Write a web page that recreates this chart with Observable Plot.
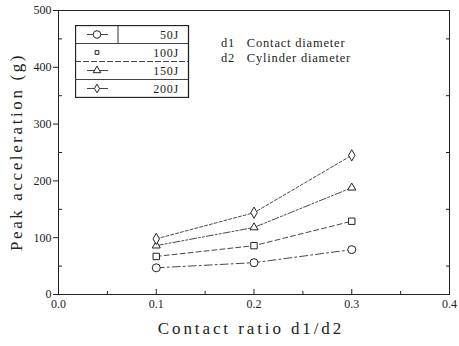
<!DOCTYPE html>
<html><head><meta charset="utf-8">
<script src="https://cdn.jsdelivr.net/npm/d3@7"></script>
<script src="https://cdn.jsdelivr.net/npm/@observablehq/plot@0.6"></script>
<style>
body{margin:0;background:#fff;}
#wrap{position:relative;width:459px;height:346px;font-family:"Liberation Serif",serif;}
#legend{position:absolute;left:75px;top:25px;}
#note{position:absolute;left:221px;top:36px;font-size:12.5px;letter-spacing:0.8px;line-height:15px;color:#222;white-space:pre;}
</style></head><body>
<div id="wrap"><div id="chart"></div><svg id="legend" width="115" height="73"></svg>
<div id="note"></div></div>
<script>
const ratios = [0.1, 0.2, 0.3];
const seriesNames = ["50J", "100J", "150J", "200J"];
const v50 = [47, 56, 79];
const v100 = [67, 86, 129];
const v150 = [86, 118, 188];
const v200 = [98, 144, 245];
const xTicks = [0, 0.1, 0.2, 0.3, 0.4];
const xMinor = [0.05, 0.15, 0.25, 0.35];
const yTicks = [0, 100, 200, 300, 400, 500];
const yMinor = [50, 150, 250, 350, 450];
const noteLines = ["d1   Contact diameter", "d2   Cylinder diameter"];

const symbols = ["circle", "square", "triangle", "diamond"];
const dashes = ["8,3,2,3", "5,3", "7,2,2,2,2,2", "3,2"];
const symSize = [4, 3.6, 3, 3.4];
const allVals = [v50, v100, v150, v200];
const data = [];
allVals.forEach((vals, i) => vals.forEach((v, j) => data.push({s: seriesNames[i], i, x: ratios[j], y: v})));

const marks = [
  Plot.frame({stroke: "#222", strokeWidth: 1}),
  Plot.axisY(yTicks, {tickSize: 5, tickFormat: d => d, fontSize: 12, tickPadding: 2, label: null, anchor: "left"}),
  Plot.axisY(yMinor, {tickSize: -4, text: null, label: null, anchor: "left"}),
  Plot.axisY(yMinor, {tickSize: -4, text: null, label: null, anchor: "right"}),
  Plot.axisX(xTicks, {tickSize: -5, tickFormat: d3.format(".1f"), fontSize: 12, tickPadding: 10, label: null, anchor: "bottom"}),
  Plot.axisX(xMinor, {tickSize: -3, text: null, label: null, anchor: "bottom"}),
];
seriesNames.forEach((s, i) => {
  const d = data.filter(e => e.i === i);
  marks.push(Plot.line(d, {x: "x", y: "y", stroke: "#333", strokeWidth: 0.9, strokeDasharray: dashes[i]}));
  marks.push(Plot.dot(d, {x: "x", y: "y", symbol: () => symbols[i], r: symSize[i], stroke: "#222", strokeWidth: 1, fill: "white"}));
});

const chart = Plot.plot({
  width: 459, height: 346,
  marginLeft: 58, marginRight: 10, marginTop: 10, marginBottom: 52,
  style: {fontFamily: "Liberation Serif, serif", color: "#222", background: "white"},
  x: {domain: [0, 0.4], label: null},
  y: {domain: [0, 500], label: null},
  marks
});
const svg = d3.select(chart);
svg.append("text").attr("x", 251).attr("y", 334).attr("text-anchor", "middle")
  .attr("font-size", 17).attr("letter-spacing", 2.9).attr("fill", "#222").text("Contact ratio d1/d2");
svg.append("text").attr("transform", "translate(22,152) rotate(-90)").attr("text-anchor", "middle")
  .attr("font-size", 17).attr("letter-spacing", 2.6).attr("fill", "#222").text("Peak acceleration (g)");
document.getElementById("chart").appendChild(chart);

document.getElementById("note").textContent = noteLines.join("\n");

// legend
const lg = d3.select("#legend");
const W = 113, rowH = 18;
lg.append("rect").attr("x", 0.5).attr("y", 0.5).attr("width", W).attr("height", rowH * 4).attr("fill", "white").attr("stroke", "#222").attr("stroke-width", 1.3);
lg.append("line").attr("x1", 43).attr("x2", 43).attr("y1", 0).attr("y2", rowH).attr("stroke", "#333");
seriesNames.forEach((s, i) => {
  const cy = rowH * i + rowH / 2 + 0.5;
  if (i > 0) lg.append("line").attr("x1", 0).attr("x2", W).attr("y1", rowH * i + 0.5).attr("y2", rowH * i + 0.5).attr("stroke", "#444").attr("stroke-dasharray", i === 2 ? "6,2" : null);
  if (i !== 1) lg.append("line").attr("x1", 12).attr("x2", 33).attr("y1", cy).attr("y2", cy).attr("stroke", "#333").attr("stroke-width", 0.9);
  const sym = d3.symbol().type([d3.symbolCircle, d3.symbolSquare, d3.symbolTriangle, d3.symbolDiamond][i]).size([45, 14, 25, 22][i]);
  lg.append("path").attr("d", sym()).attr("transform", `translate(22,${cy})`).attr("fill", "white").attr("stroke", "#222");
  lg.append("text").attr("x", 104).attr("y", cy + 4).attr("text-anchor", "end").attr("font-size", 12).attr("letter-spacing", 0.8).attr("fill", "#222").text(s);
});
</script></body></html>
